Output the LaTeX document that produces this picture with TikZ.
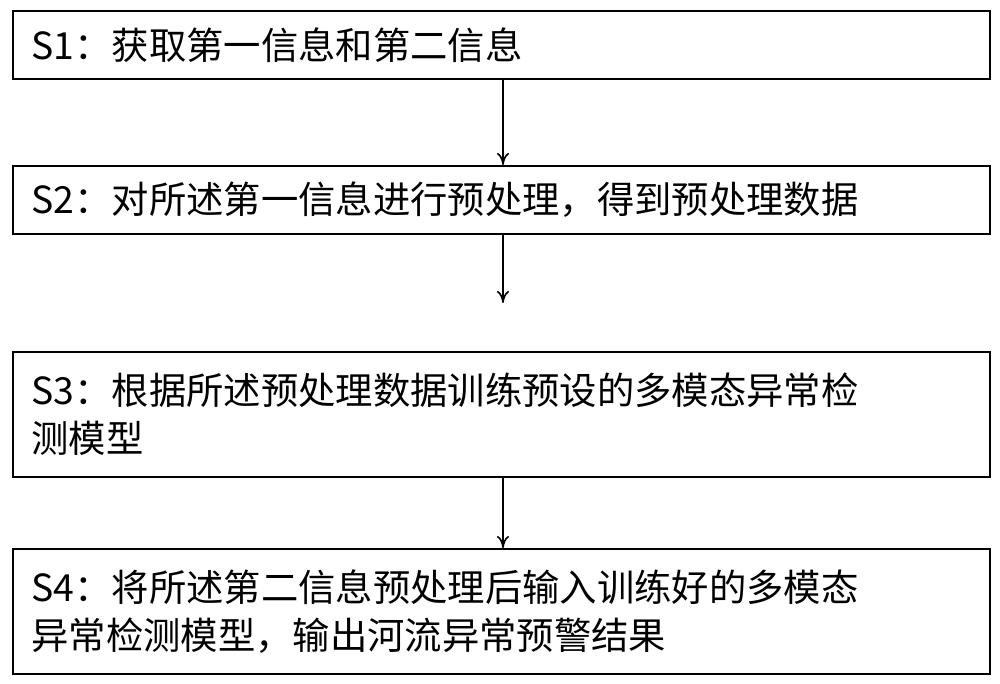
\documentclass[tikz,border=0pt]{standalone}
\usepackage{fontspec}
\setmainfont{Noto Sans CJK SC}
\usetikzlibrary{positioning,arrows.meta}
\tikzset{every picture/.style={line width=0.75pt}}
\tikzset{stepbox/.style={draw, line width=1.2pt, anchor=north west, align=left, inner xsep=14pt, inner ysep=0pt,
  text width=705pt, font=\fontsize{28}{36}\selectfont},
  flow/.style={-{To[length=9pt,width=9pt]}, line width=1.2pt}}
\begin{document}
\begin{tikzpicture}[x=0.75pt,y=0.75pt,yscale=-1,xscale=1]
        \useasboundingbox (0,0) rectangle (1000,684);

        %Boxes
        \node [stepbox, minimum height=51pt] (s1) at (12,10) {S1：获取第一信息和第二信息};
        \node [stepbox, minimum height=51pt] (s2) at (12,165) {S2：对所述第一信息进行预处理，得到预处理数据};
        \node [stepbox, minimum height=94pt] (s3) at (12,351) {S3：根据所述预处理数据训练预设的多模态异常检\\测模型};
        \node [stepbox, minimum height=94pt] (s4) at (12,548) {S4：将所述第二信息预处理后输入训练好的多模态\\异常检测模型，输出河流异常预警结果};

        %Arrows
        \coordinate (gap) at (503,303);
        \draw [flow] (s1.south -| gap) -- (s2.north -| gap);
        \draw [flow] (s2.south -| gap) -- (gap);
        \draw [flow] (s3.south -| gap) -- (s4.north -| gap);
    \end{tikzpicture}
\end{document}
